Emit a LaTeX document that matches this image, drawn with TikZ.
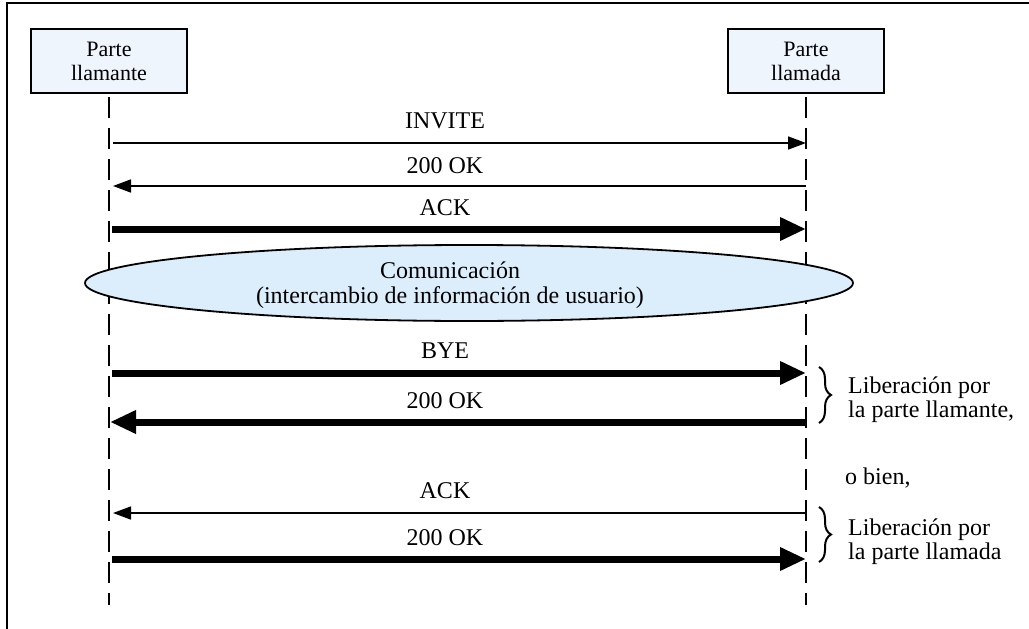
\documentclass[tikz,border=0pt]{standalone}
\usepackage{fontspec}
\setmainfont{Liberation Serif}
\usetikzlibrary{arrows.meta,decorations.pathreplacing,shapes.geometric}
\definecolor{boxfill}{HTML}{EEF5FD}
\definecolor{ellfill}{HTML}{DCEEFB}
\begin{document}
\begin{tikzpicture}[x=1pt,y=-1pt,
  font=\fontsize{24}{24}\selectfont,
  party/.style={draw, line width=2pt, fill=boxfill, minimum width=156pt, minimum height=64pt, align=center, inner sep=0pt, font=\fontsize{22}{24}\selectfont},
  lifeline/.style={line width=1.8pt, dash pattern=on 21pt off 10pt},
  thinmsg/.style={line width=1.6pt, -{Triangle[length=18pt,width=13pt]}},
  thickmsg/.style={line width=7pt, -{Triangle[length=26pt,width=22pt]}},
  lbl/.style={inner sep=0pt, anchor=base},
  note/.style={inner sep=0pt, anchor=base west, align=left},
  bracestyle/.style={decorate, decoration={brace, amplitude=12pt}, line width=2pt}
]
\useasboundingbox (0,0) rectangle (1029,629);
% frame
\draw[line width=2pt] (7,629) -- (7,3) -- (1029,3);
% parties
\node[party] (A) at (109,61) {Parte\\llamante};
\node[party] (B) at (806,61) {Parte\\llamada};
\coordinate (Aend) at (109,605);
\coordinate (Bend) at (806,605);
\draw[lifeline] ([yshift=-3pt]A.south) -- (Aend);
\draw[lifeline] ([yshift=-3pt]B.south) -- (Bend);
% message endpoints
\coordinate (l1) at (113,143); \coordinate (r1) at (806,143);
\coordinate (l2) at (113,186); \coordinate (r2) at (806,186);
\coordinate (l3) at (112,229); \coordinate (r3) at (806,229);
\coordinate (l4) at (112,373); \coordinate (r4) at (806,373);
\coordinate (l5) at (110,422); \coordinate (r5) at (806,422);
\coordinate (l6) at (113,513); \coordinate (r6) at (806,513);
\coordinate (l7) at (112,559); \coordinate (r7) at (806,559);
% messages
\draw[thinmsg] (l1) -- (r1);
\node[lbl] (m1) at (445,128) {INVITE};
\draw[thinmsg] (r2) -- (l2);
\node[lbl] (m2) at (445,173) {200 OK};
\draw[thickmsg] (l3) -- (r3);
\node[lbl] (m3) at (445,215) {ACK};
% communication
\node[ellipse, draw, fill=ellfill, line width=1.8pt, minimum width=768pt, minimum height=76pt, inner sep=0pt] (E) at (469,283) {};
\node[inner sep=0pt, align=center, font=\fontsize{24}{25}\selectfont] (Et) at (450,285) {Comunicación\\(intercambio de información de usuario)};
% release by caller
\draw[thickmsg] (l4) -- (r4);
\node[lbl] (m4) at (445,358) {BYE};
\draw[thickmsg] (r5) -- (l5);
\node[lbl] (m5) at (445,408) {200 OK};
% release by callee
\draw[thinmsg] (r6) -- (l6);
\node[lbl] (m6) at (445,498) {ACK};
\draw[thickmsg] (l7) -- (r7);
\node[lbl] (m7) at (445,545) {200 OK};
% braces and notes
\coordinate (b1t) at (819,367); \coordinate (b1b) at (819,423);
\coordinate (b2t) at (819,507); \coordinate (b2b) at (819,562);
\draw[bracestyle] (b1t) -- (b1b);
\draw[bracestyle] (b2t) -- (b2b);
\node[note] (n1) at (848,417) {Liberación por\\la parte llamante,};
\node[note] (n2) at (845,484) {o bien,};
\node[note] (n3) at (848,559) {Liberación por\\la parte llamada};
\end{tikzpicture}
\end{document}
